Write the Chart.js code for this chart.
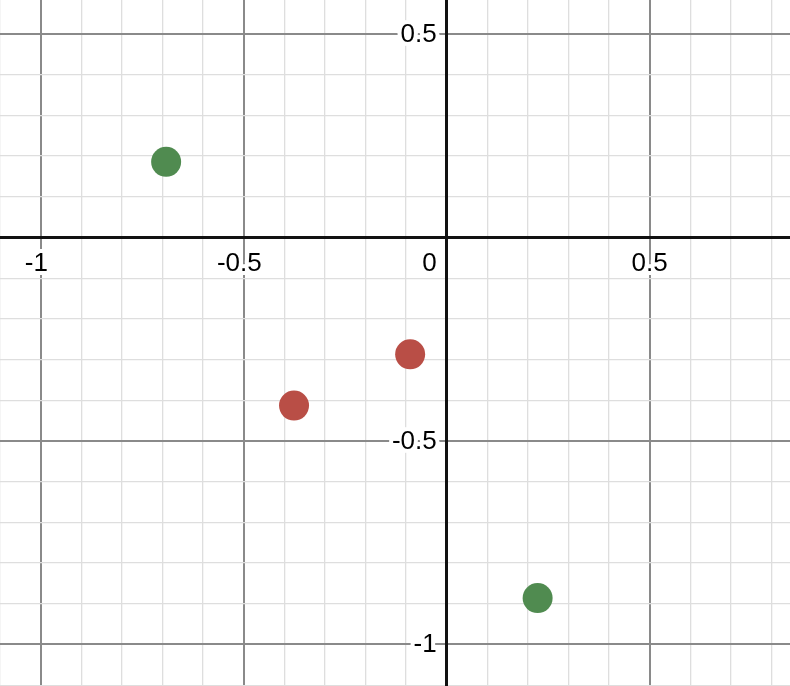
<!DOCTYPE html>
<html>
<head>
<meta charset="utf-8">
<script src="https://cdn.jsdelivr.net/npm/chart.js@4"></script>
<style>
  html, body { margin: 0; padding: 0; background: #fff; }
  #wrap { width: 790px; height: 686px; position: relative; }
</style>
</head>
<body>
<div id="wrap"><canvas id="graph"></canvas></div>
<script>
// Points
const greenX = [-0.691, 0.224];
const greenY = [0.186, -0.886];
const redX = [-0.090, -0.376];
const redY = [-0.287, -0.413];

// Axis labels
const xTickValues = [-1, -0.5, 0, 0.5];
const xTickLabels = ['-1', '-0.5', '0', '0.5'];
const yTickValues = [0.5, -0.5, -1];
const yTickLabels = ['0.5', '-0.5', '-1'];

const FONT = '26px "Liberation Sans", Arial, sans-serif';

function toPoints(xs, ys) {
    return xs.map((x, i) => ({ x: x, y: ys[i] }));
}

// grid styling: axis black, every 0.5 darker gray, every 0.1 light gray
function gridColor(ctx) {
    const v = ctx.tick ? ctx.tick.value : 1;
    if (Math.abs(v) < 1e-9) return '#111';
    if (Math.abs(v * 2 - Math.round(v * 2)) < 1e-6) return '#8a8a8a';
    return '#dedede';
}
function gridWidth(ctx) {
    const v = ctx.tick ? ctx.tick.value : 1;
    if (Math.abs(v) < 1e-9) return 3;
    if (Math.abs(v * 2 - Math.round(v * 2)) < 1e-6) return 2;
    return 1.3;
}

// draws the numbers next to the axes, with a white halo like desmos
const axisLabels = {
    id: 'axisLabels',
    beforeDatasetsDraw(chart) {
        const ctx = chart.ctx;
        const xs = chart.scales.x;
        const ys = chart.scales.y;
        const x0 = xs.getPixelForValue(0);
        const y0 = ys.getPixelForValue(0);
        ctx.save();
        ctx.font = FONT;
        ctx.textBaseline = 'alphabetic';
        ctx.lineJoin = 'round';
        ctx.lineWidth = 8;
        ctx.strokeStyle = '#fff';
        ctx.fillStyle = '#000';

        xTickValues.forEach((v, i) => {
            const txt = xTickLabels[i];
            let px = xs.getPixelForValue(v);
            const py = y0 + 34;
            if (v === 0) {
                ctx.textAlign = 'right';
                px = x0 - 10;
            } else {
                // center the number without its minus sign
                const w = ctx.measureText(txt.replace('-', '')).width;
                ctx.textAlign = 'right';
                px = px + w / 2;
            }
            ctx.strokeText(txt, px, py);
            ctx.fillText(txt, px, py);
        });

        ctx.textAlign = 'right';
        yTickValues.forEach((v, i) => {
            const txt = yTickLabels[i];
            const py = ys.getPixelForValue(v) + 8;
            ctx.strokeText(txt, x0 - 10, py);
            ctx.fillText(txt, x0 - 10, py);
        });
        ctx.restore();
    }
};

const ctx = document.getElementById('graph').getContext('2d');
const graph = new Chart(ctx, {
    type: 'scatter',
    data: {
        datasets: [
            {
                label: 'green',
                data: toPoints(greenX, greenY),
                backgroundColor: 'rgb(80, 139, 80)',
                borderWidth: 0,
                pointRadius: 15,
                pointHoverRadius: 15
            },
            {
                label: 'red',
                data: toPoints(redX, redY),
                backgroundColor: 'rgb(185, 78, 70)',
                borderWidth: 0,
                pointRadius: 15,
                pointHoverRadius: 15
            }
        ]
    },
    options: {
        responsive: true,
        maintainAspectRatio: false,
        animation: false,
        events: [],
        layout: { padding: 0, autoPadding: false },
        scales: {
            x: {
                type: 'linear',
                position: { y: 0 },
                min: -1.1002,
                max: 0.8456,
                ticks: { display: false, stepSize: 0.1, includeBounds: false, maxTicksLimit: 100 },
                grid: { color: gridColor, lineWidth: gridWidth, drawTicks: false },
                border: { display: true, color: '#111', width: 3 }
            },
            y: {
                type: 'linear',
                position: { x: 0 },
                min: -1.102,
                max: 0.5835,
                ticks: { display: false, stepSize: 0.1, includeBounds: false, maxTicksLimit: 100 },
                grid: { color: gridColor, lineWidth: gridWidth, drawTicks: false },
                border: { display: true, color: '#111', width: 3 }
            }
        },
        plugins: {
            legend: { display: false },
            tooltip: { enabled: false }
        }
    },
    plugins: [axisLabels]
});
</script>
</body>
</html>
